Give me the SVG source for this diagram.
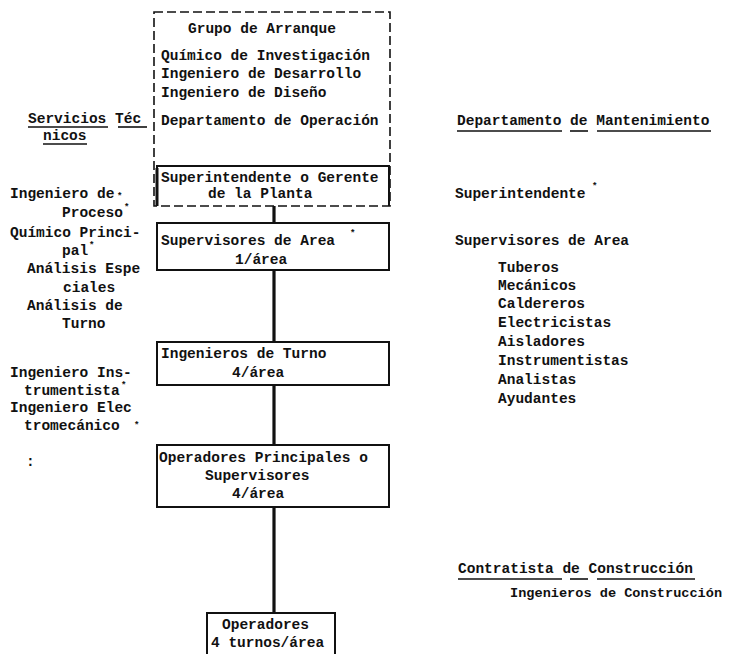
<svg xmlns="http://www.w3.org/2000/svg" width="734" height="654" viewBox="0 0 734 654">
<style>
text{font-family:"Liberation Mono","DejaVu Sans Mono",monospace;font-size:14.5px;font-weight:bold;fill:#111}
.box{fill:none;stroke:#111;stroke-width:2}
.dash{fill:none;stroke:#111;stroke-width:1.6;stroke-dasharray:9,4}
.conn{stroke:#111;stroke-width:3.2;fill:none}
.ul{stroke:#111;stroke-width:1.6}
.sm{font-size:9px}
</style>
<rect width="734" height="654" fill="#fff"/>
<g id="connectors">
<line class="conn" x1="274" y1="206" x2="274" y2="223"/>
<line class="conn" x1="274" y1="270" x2="274" y2="342"/>
<line class="conn" x1="274" y1="385" x2="274" y2="445"/>
<line class="conn" x1="274" y1="507" x2="274" y2="613"/>
</g>
<g id="grupo-arranque">
<rect class="dash" x="154" y="12" width="236" height="194"/>
<text x="188" y="33">Grupo de Arranque</text>
<text x="161" y="60">Químico de Investigación</text>
<text x="161" y="78">Ingeniero de Desarrollo</text>
<text x="161" y="97">Ingeniero de Diseño</text>
<text x="161" y="125">Departamento de Operación</text>
</g>
<g id="superintendente">
<path class="box" d="M157 206 V166 H389 V206"/>
<line x1="157" y1="168" x2="157" y2="206" stroke="#111" stroke-width="3"/>
<text x="161" y="182">Superintendente o Gerente</text>
<text x="208" y="198">de la Planta</text>
</g>
<g id="supervisores-area">
<rect class="box" x="157" y="223" width="232" height="47"/>
<text x="161" y="245">Supervisores de Area</text>
<text class="sm" x="350" y="236">*</text>
<text x="235" y="264">1/área</text>
</g>
<g id="ingenieros-turno">
<rect class="box" x="157" y="342" width="232" height="43"/>
<text x="161" y="358">Ingenieros de Turno</text>
<text x="232" y="377">4/área</text>
</g>
<g id="operadores-principales">
<rect class="box" x="157" y="445" width="232" height="62"/>
<text x="159" y="462">Operadores Principales o</text>
<text x="205" y="480">Supervisores</text>
<text x="232" y="498">4/área</text>
</g>
<g id="operadores">
<rect class="box" x="207" y="613" width="128" height="50"/>
<text x="222" y="629">Operadores</text>
<text x="211" y="647">4 turnos/área</text>
</g>
<g id="servicios-tecnicos">
<text x="28" y="123">Servicios Téc</text>
<line class="ul" x1="28" y1="127" x2="108" y2="127"/>
<line class="ul" x1="118" y1="127" x2="147" y2="127"/>
<text x="43" y="140">nicos</text>
<line class="ul" x1="43" y1="144" x2="87" y2="144"/>
<text x="10" y="198">Ingeniero de</text>
<text class="sm" x="117" y="199">*</text>
<text x="62" y="217">Proceso</text>
<text class="sm" x="124" y="210">*</text>
<text x="10" y="237">Químico Princi-</text>
<text x="62" y="255">pal</text>
<text class="sm" x="89" y="248">*</text>
<text x="27" y="273">Análisis Espe</text>
<text x="63" y="292">ciales</text>
<text x="27" y="310">Análisis de</text>
<text x="62" y="328">Turno</text>
<text x="10" y="377">Ingeniero Ins-</text>
<text x="24" y="395">trumentista</text>
<text class="sm" x="121" y="388">*</text>
<text x="10" y="412">Ingeniero Elec</text>
<text x="24" y="430">tromecánico</text>
<text class="sm" x="134" y="428">*</text>
<text x="26" y="466">:</text>
</g>
<g id="mantenimiento">
<text x="457" y="125">Departamento de Mantenimiento</text>
<line class="ul" x1="457" y1="131" x2="562" y2="131"/>
<line class="ul" x1="570" y1="131" x2="588" y2="131"/>
<line class="ul" x1="597" y1="131" x2="711" y2="131"/>
<text x="455" y="198">Superintendente</text>
<text class="sm" x="592" y="189">*</text>
<text x="455" y="245">Supervisores de Area</text>
<text x="498" y="272">Tuberos</text>
<text x="498" y="290">Mecánicos</text>
<text x="498" y="308">Caldereros</text>
<text x="498" y="327">Electricistas</text>
<text x="498" y="346">Aisladores</text>
<text x="498" y="365">Instrumentistas</text>
<text x="498" y="384">Analistas</text>
<text x="498" y="403">Ayudantes</text>
</g>
<g id="contratista">
<text x="458" y="573">Contratista de Construcción</text>
<line class="ul" x1="458" y1="579" x2="562" y2="579"/>
<line class="ul" x1="570" y1="579" x2="588" y2="579"/>
<line class="ul" x1="597" y1="579" x2="695" y2="579"/>
<text x="510" y="597" style="font-size:13.6px">Ingenieros de Construcción</text>
</g>
</svg>
